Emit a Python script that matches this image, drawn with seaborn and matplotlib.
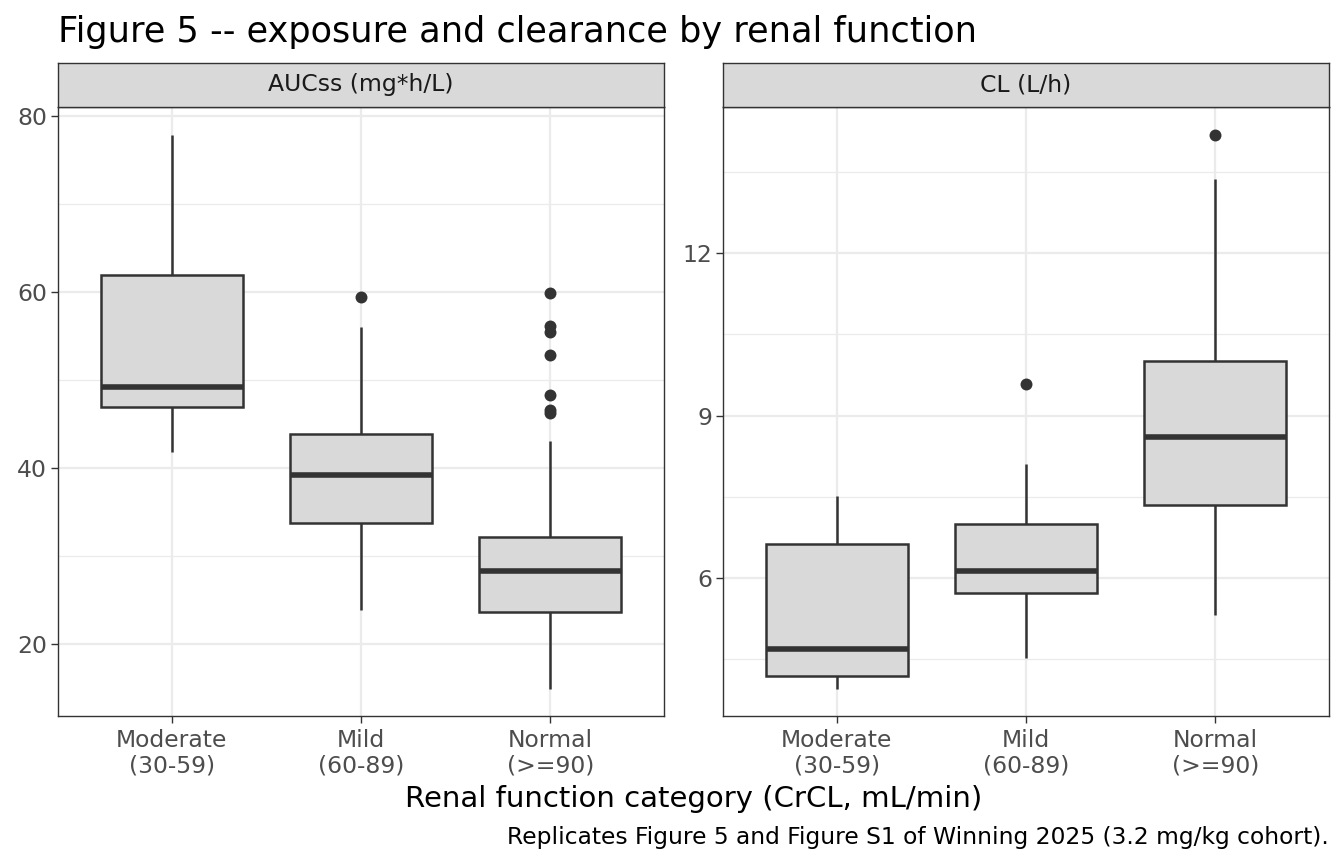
import numpy as np
import pandas as pd
import matplotlib
matplotlib.use("Agg")
import matplotlib.pyplot as plt
from matplotlib.ticker import MultipleLocator, FixedLocator
import seaborn as sns

# ---------------- data ----------------
categories = ["Moderate\n(30-59)", "Mild\n(60-89)", "Normal\n(>=90)"]

# five-number summaries: whisker low, Q1, median, Q3, whisker high
auc_moderate = [41.8, 46.9, 49.2, 61.9, 77.8]
auc_mild = [23.9, 33.7, 39.2, 43.9, 56.0]
auc_normal = [14.9, 23.6, 28.3, 32.2, 43.1]
auc_outliers_moderate = []
auc_outliers_mild = [59.4]
auc_outliers_normal = [46.3, 46.6, 48.3, 52.8, 55.5, 56.1, 59.9]

cl_moderate = [3.95, 4.19, 4.69, 6.63, 7.51]
cl_mild = [4.52, 5.72, 6.13, 7.00, 8.10]
cl_normal = [5.32, 7.35, 8.61, 10.01, 13.37]
cl_outliers_moderate = []
cl_outliers_mild = [9.59]
cl_outliers_normal = [14.18]

panel_titles = ["AUCss (mg*h/L)", "CL (L/h)"]
title = "Figure 5 -- exposure and clearance by renal function"
xlabel = "Renal function category (CrCL, mL/min)"
caption = "Replicates Figure 5 and Figure S1 of Winning 2025 (3.2 mg/kg cohort)."


def long_frame(groups):
    rows = []
    for cat, vals in zip(categories, groups):
        for v in vals:
            rows.append({"cat": cat, "val": v})
    return pd.DataFrame(rows, columns=["cat", "val"])


auc_box = long_frame([auc_moderate, auc_mild, auc_normal])
auc_out = long_frame([auc_outliers_moderate, auc_outliers_mild, auc_outliers_normal])
cl_box = long_frame([cl_moderate, cl_mild, cl_normal])
cl_out = long_frame([cl_outliers_moderate, cl_outliers_mild, cl_outliers_normal])

# ---------------- styling ----------------
sns.set_theme(style="white")
plt.rcParams["font.family"] = ["DejaVu Sans"]

W, H = 1344, 864
fig = plt.figure(figsize=(W / 100, H / 100), dpi=100)

dark = "#333333"
box_fill = "#d9d9d9"
grid_col = "#ebebeb"

panel_top, panel_bot = 107, 716
strip_top = 63
panels = [(58, 664), (723, 1329)]

specs = [
    (auc_box, auc_out, (11.82, 81.02), [20, 40, 60, 80], 10),
    (cl_box, cl_out, (3.45, 14.70), [6, 9, 12], 1.5),
]

for (x0, x1), (bdf, odf, ylim, yt, minor), ptitle in zip(panels, specs, panel_titles):
    ax = fig.add_axes([x0 / W, 1 - panel_bot / H, (x1 - x0) / W, (panel_bot - panel_top) / H])
    ax.set_axisbelow(True)
    sns.boxplot(data=bdf, x="cat", y="val", order=categories, whis=(0, 100),
                width=0.75, color=box_fill, saturation=1, linecolor=dark,
                linewidth=1.8, showcaps=False, fliersize=0,
                medianprops=dict(linewidth=4.0, color=dark), ax=ax)
    if len(odf):
        sns.stripplot(data=odf, x="cat", y="val", order=categories, jitter=False,
                      color=dark, size=8.6, linewidth=0, ax=ax, zorder=5)
    ax.set_xlim(-0.6, 2.6)
    ax.set_ylim(*ylim)
    ax.yaxis.set_major_locator(FixedLocator(yt))
    ax.yaxis.set_minor_locator(MultipleLocator(minor))
    ax.grid(True, which="major", axis="both", color=grid_col, linewidth=1.6)
    ax.grid(True, which="minor", axis="y", color=grid_col, linewidth=0.9)
    ax.set_xlabel("")
    ax.set_ylabel("")
    ax.tick_params(axis="both", which="major", direction="out", length=5, width=1.0,
                   color=dark, labelcolor="#4d4d4d", labelsize=16.9, pad=3,
                   left=True, bottom=True)
    ax.tick_params(axis="x", which="major", pad=4.5)
    ax.tick_params(axis="y", which="minor", left=False)
    for lbl in ax.get_xticklabels():
        lbl.set_linespacing(1.12)
    for s in ax.spines.values():
        s.set_visible(True)
        s.set_color(dark)
        s.set_linewidth(1.0)

    sax = fig.add_axes([x0 / W, 1 - panel_top / H, (x1 - x0) / W, (panel_top - strip_top) / H])
    sax.set_facecolor(box_fill)
    sax.set_xticks([])
    sax.set_yticks([])
    for s in sax.spines.values():
        s.set_visible(True)
        s.set_color(dark)
        s.set_linewidth(1.0)
    sax.text(0.5, 0.5, ptitle, ha="center", va="center", fontsize=16.9,
             color="#1a1a1a", transform=sax.transAxes)

fig.text(58 / W, 1 - 42 / H, title, ha="left", va="baseline", fontsize=25.3, color="black")
fig.text(693.5 / W, 1 - 807 / H, xlabel, ha="center", va="baseline", fontsize=21, color="black")
fig.text(1329 / W, 1 - 844 / H, caption, ha="right", va="baseline", fontsize=16.85, color="black")

fig.savefig("out.png", dpi=100, facecolor="white")
